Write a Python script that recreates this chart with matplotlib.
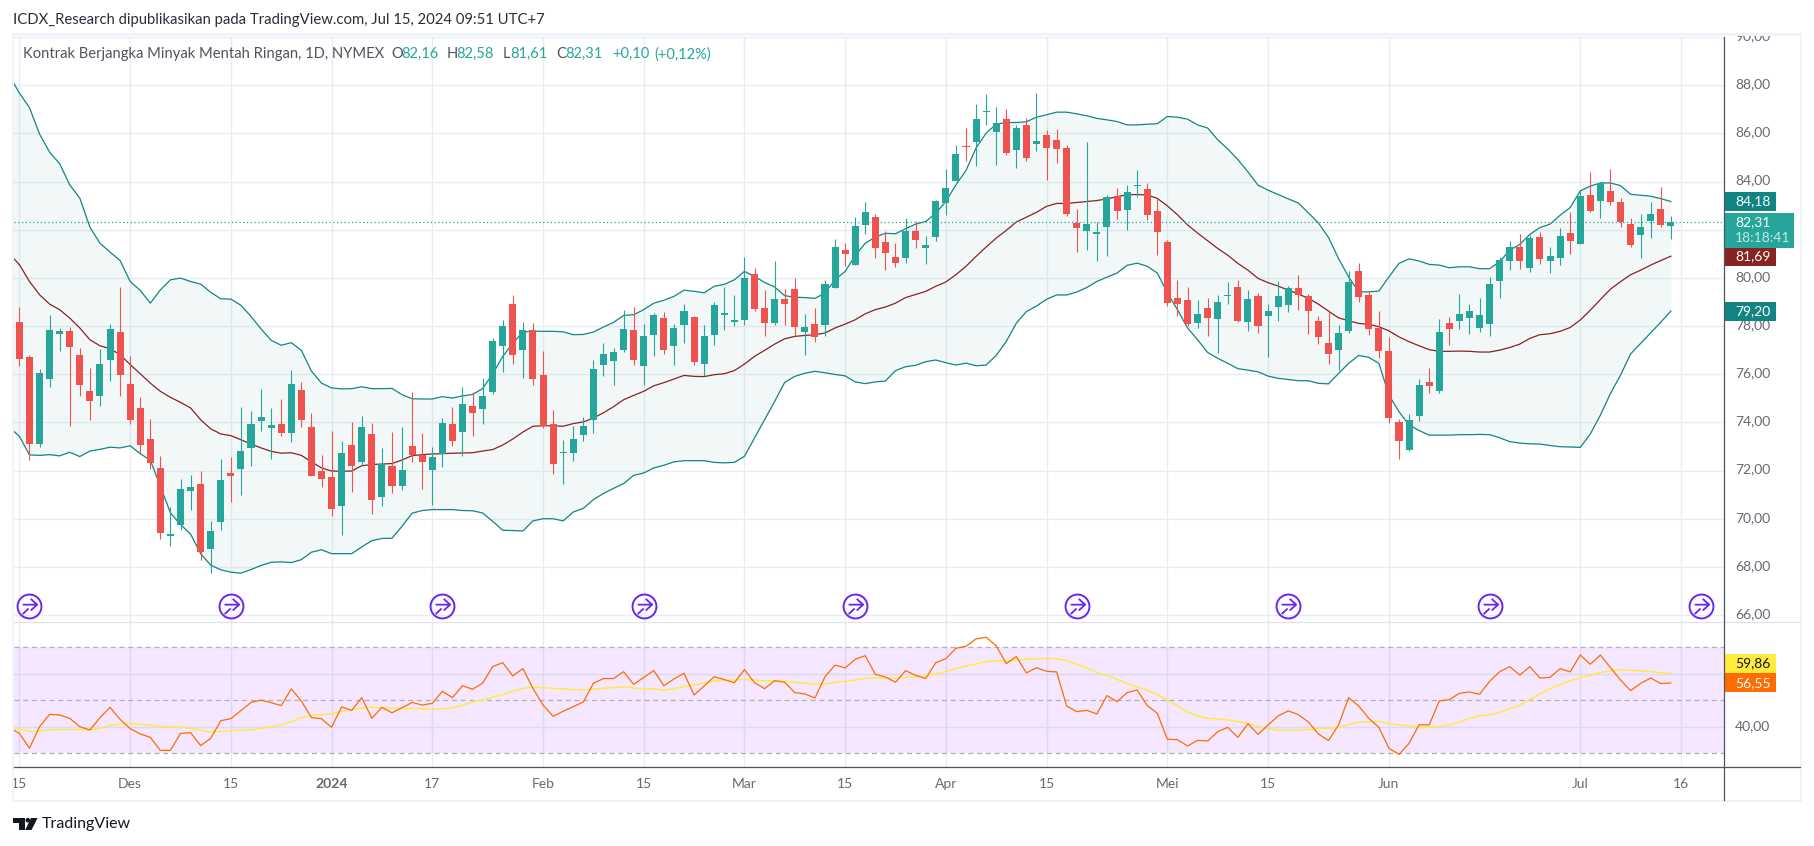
import numpy as np
import matplotlib
matplotlib.use("Agg")
import matplotlib.pyplot as plt
from matplotlib.path import Path
from matplotlib.patches import Rectangle, Polygon, Circle
from matplotlib.transforms import ScaledTranslation

plt.rcParams['font.family'] = ['Lato', 'DejaVu Sans']

# daily candles, index 0 is 15 Nov 2023, last one 15 Jul 2024
opens = [78.18,76.73,73.09,75.79,77.65,77.79,76.80,75.32,75.08,76.58,77.76,75.61,74.61,73.31,72.11,69.27,69.76,71.14,71.46,68.73,
         69.85,71.91,72.05,72.92,74.04,73.78,73.95,73.55,75.36,73.82,72.00,71.75,70.52,73.08,72.37,73.53,70.89,72.20,71.35,73.03,
         72.65,72.01,72.70,73.95,73.59,74.69,74.57,75.28,77.16,78.93,77.02,77.83,75.98,73.95,72.74,72.74,73.49,74.09,76.40,76.56,
         77.02,77.85,76.33,77.61,78.35,77.16,78.06,78.39,76.41,77.61,78.47,78.18,78.26,80.17,78.76,78.14,79.13,79.55,77.76,78.10,
         78.06,79.59,81.17,80.54,82.20,82.54,81.50,80.88,80.84,81.96,81.25,81.71,83.12,84.03,85.48,85.65,86.87,86.06,86.60,85.32,
         86.35,85.57,85.94,85.73,85.40,82.29,81.96,81.83,82.12,83.41,82.83,83.82,83.70,82.79,81.50,79.18,79.09,78.14,78.76,78.30,
         79.24,79.62,78.16,79.24,78.41,78.79,78.87,79.57,79.24,78.20,77.29,77.00,77.79,80.28,79.28,77.91,76.96,74.01,72.85,74.26,
         75.67,75.30,78.12,78.20,78.33,77.91,78.08,79.86,80.69,81.28,80.40,81.69,80.69,80.82,81.86,81.40,83.43,83.18,83.60,83.14,
         82.23,81.77,82.35,82.85,82.16]
highs = [78.79,76.80,76.22,78.47,77.92,77.96,77.09,76.26,77.05,78.10,79.63,76.77,75.05,74.14,72.62,70.49,71.65,71.82,71.98,69.91,
         72.50,72.56,74.64,74.49,75.40,74.61,74.98,76.19,75.68,74.39,72.66,73.64,73.23,74.03,74.28,73.98,72.95,73.62,73.82,75.26,
         73.57,72.99,74.20,74.65,75.47,75.26,75.84,77.50,78.26,79.30,78.17,78.12,76.96,74.53,73.28,73.86,74.24,76.60,77.31,77.10,
         78.65,78.79,78.10,78.54,78.58,78.10,78.91,78.43,78.06,79.00,79.63,79.30,80.86,80.40,79.50,80.71,79.55,79.99,78.51,78.76,
         79.92,81.61,81.46,82.52,83.15,82.66,81.94,81.46,82.48,82.36,81.75,83.24,84.53,85.52,86.23,87.23,87.64,87.10,87.00,86.35,
         86.63,87.68,86.15,86.19,85.52,82.87,85.65,82.33,83.45,83.74,83.86,84.49,83.95,83.27,81.57,79.92,79.63,79.09,79.18,79.28,
         79.82,79.93,79.49,79.37,78.91,79.86,79.66,80.11,79.32,78.41,78.62,78.04,80.28,80.61,79.41,78.62,77.54,74.14,74.35,75.80,
         76.25,78.29,78.37,79.32,78.91,79.16,80.03,80.86,81.52,81.81,81.77,81.90,81.30,82.06,82.73,83.64,84.39,83.96,84.51,83.31,
         82.48,82.64,83.14,83.76,82.58]
lows = [76.33,72.43,72.97,75.46,76.95,73.84,75.11,74.09,74.67,75.70,75.08,73.95,72.70,72.07,69.15,68.86,69.52,70.38,68.28,67.74,
        69.55,70.68,71.00,72.18,73.63,72.47,73.42,73.17,73.80,71.76,71.31,70.10,69.31,71.10,72.25,70.19,70.52,71.06,71.21,72.37,
        71.25,70.55,72.14,73.03,72.59,73.45,73.95,75.19,76.08,76.44,75.86,75.54,73.78,71.85,71.43,72.41,73.24,73.57,75.94,75.57,
        76.91,76.40,75.54,76.74,76.82,76.37,77.28,76.37,75.91,77.20,77.82,78.00,78.05,78.61,77.57,78.03,78.05,77.57,76.81,77.35,
        77.60,79.59,80.50,80.54,81.83,80.84,80.34,80.46,80.63,81.25,80.59,81.54,82.62,84.03,84.86,84.65,86.35,84.69,85.11,84.57,
        84.86,85.28,84.07,84.78,82.58,81.08,81.17,80.71,80.92,82.45,82.00,83.37,82.41,80.96,78.84,78.43,77.99,77.93,77.57,76.89,
        78.91,78.16,77.79,77.71,76.72,78.20,78.58,78.66,77.67,77.25,76.42,76.17,77.71,78.99,77.62,76.67,73.97,72.48,72.81,74.05,
        75.22,75.22,77.21,77.87,77.67,77.75,77.58,79.16,80.32,80.36,80.24,80.57,80.20,80.53,80.98,81.40,82.73,82.48,83.02,82.10,
        81.28,80.82,81.65,82.10,81.61]
closes = [76.64,73.09,76.06,77.83,77.81,77.11,75.54,74.87,76.44,77.89,75.95,74.09,73.05,72.30,69.40,69.38,71.24,71.33,68.61,69.51,
          71.61,71.76,72.83,73.95,74.24,73.91,73.55,75.61,74.09,71.76,71.64,70.39,72.74,72.18,73.82,70.77,72.29,71.35,72.04,72.65,
          72.37,72.58,73.99,73.24,74.78,74.38,75.10,77.39,78.01,76.78,77.83,75.81,73.84,72.26,72.79,73.32,73.86,76.23,76.85,76.93,
          77.89,76.60,77.60,78.47,77.02,77.93,78.64,76.49,77.60,78.87,78.54,78.26,80.01,78.72,78.14,79.13,78.93,77.97,77.97,77.56,
          79.76,81.29,81.00,82.16,82.74,81.25,81.04,80.63,81.96,81.58,81.37,83.20,83.74,85.15,85.44,86.60,86.93,86.44,85.19,86.23,
          84.98,85.69,85.40,85.36,82.66,82.08,82.25,81.91,83.37,82.79,83.57,83.86,82.62,81.91,78.97,78.93,78.10,78.51,78.35,78.99,
          79.28,78.20,79.12,78.00,78.62,79.24,79.57,79.28,78.62,77.54,76.84,77.71,79.82,79.20,77.87,76.96,74.18,73.22,74.10,75.55,
          75.51,77.75,77.87,78.50,78.62,78.45,79.74,80.74,81.28,80.69,81.65,80.78,80.90,81.73,81.52,83.39,82.77,83.93,83.14,82.31,
          81.36,82.11,82.64,82.19,82.31]

# bollinger bands, first value is the bar before index 0
bb_upper = [88.4,87.67,87.07,85.97,85.22,84.74,83.86,83.31,82.11,81.44,81.07,80.72,79.85,79.48,78.95,79.5,79.92,79.99,79.85,79.74,79.4,79.13,
            79.12,78.86,78.4,77.88,77.41,77.2,77.31,76.99,76.13,75.63,75.43,75.39,75.4,75.48,75.4,75.4,75.41,75.15,74.98,74.97,74.97,75.07,
            75.01,75.1,75.16,75.4,76.02,76.74,77.29,77.75,77.79,77.78,77.78,77.76,77.64,77.65,77.75,77.96,78.15,78.44,78.47,78.68,78.95,79.07,
            79.23,79.49,79.44,79.38,79.65,79.73,79.92,80.27,80.06,79.81,79.62,79.26,79.2,79.18,79.15,79.37,79.92,80.27,80.92,81.44,81.69,81.85,
            81.83,82.04,82.23,82.34,82.69,83.17,83.86,84.46,85.39,86.01,86.38,86.45,86.45,86.48,86.67,86.77,86.88,86.88,86.81,86.73,86.62,86.56,
            86.49,86.35,86.35,86.38,86.4,86.7,86.67,86.59,86.35,86.22,85.73,85.35,84.91,84.4,83.85,83.64,83.46,83.28,83.11,82.7,82.28,81.68,
            80.8,80.04,79.42,79.42,79.45,80.04,80.6,80.79,80.7,80.56,80.53,80.42,80.46,80.46,80.38,80.38,80.67,81.15,81.39,81.81,82.09,82.23,
            82.6,82.92,83.61,83.81,83.94,83.94,83.83,83.47,83.43,83.39,83.29,83.17]
bb_basis = [81.0,80.55,79.85,79.3,78.91,78.68,78.33,77.92,77.43,77.18,77.06,76.81,76.4,76.02,75.63,75.29,75.04,74.83,74.6,74.11,73.73,73.52,
            73.45,73.28,73.1,72.94,72.8,72.72,72.74,72.63,72.36,72.11,71.98,71.97,71.98,72.2,72.25,72.27,72.29,72.44,72.62,72.66,72.69,72.7,
            72.72,72.73,72.74,72.81,72.87,73.06,73.31,73.6,73.84,73.86,73.86,73.84,73.95,74.02,74.18,74.4,74.65,74.94,75.12,75.29,75.52,75.65,
            75.8,75.95,75.91,75.9,75.98,76.02,76.15,76.42,76.74,76.99,77.25,77.47,77.57,77.61,77.64,77.71,77.92,78.08,78.26,78.51,78.68,78.79,
            78.95,79.18,79.31,79.44,79.65,79.83,80.13,80.48,80.89,81.28,81.65,81.97,82.32,82.52,82.72,82.97,83.09,83.09,83.13,83.17,83.21,83.28,
            83.37,83.45,83.46,83.44,83.3,82.99,82.62,82.2,81.86,81.54,81.22,80.94,80.6,80.32,79.98,79.8,79.66,79.49,79.33,79.15,78.91,78.62,
            78.34,78.22,78.11,78.07,77.97,77.8,77.55,77.35,77.18,77.02,76.95,76.95,76.96,76.95,76.92,76.92,77.0,77.11,77.25,77.49,77.64,77.68,
            77.78,77.94,78.25,78.66,79.1,79.53,79.84,80.13,80.32,80.53,80.72,80.9]
bb_lower = [73.8,73.42,72.65,72.63,72.66,72.61,72.76,72.58,72.81,72.88,72.97,72.94,73.03,72.7,72.43,71.35,70.24,69.76,69.36,68.55,68.07,67.88,
            67.78,67.74,67.89,68.06,68.19,68.21,68.18,68.3,68.61,68.71,68.55,68.55,68.55,68.83,69.09,69.18,69.19,69.69,70.23,70.34,70.38,70.38,
            70.38,70.34,70.33,70.24,69.89,69.52,69.51,69.49,69.91,70.0,70.0,69.91,70.28,70.43,70.79,71.05,71.26,71.46,71.8,71.9,72.11,72.22,
            72.36,72.41,72.41,72.41,72.34,72.32,72.34,72.59,73.35,74.11,74.87,75.66,75.91,76.04,76.12,76.06,75.99,75.93,75.68,75.61,75.68,75.72,
            76.15,76.31,76.37,76.52,76.59,76.48,76.38,76.46,76.35,76.38,76.78,77.36,78.12,78.6,78.83,79.11,79.29,79.29,79.41,79.6,79.85,80.03,
            80.2,80.52,80.61,80.48,80.2,79.37,78.68,77.92,77.43,76.9,76.66,76.45,76.23,76.17,76.1,75.92,75.83,75.78,75.73,75.73,75.62,75.6,
            76.03,76.45,76.78,76.7,76.45,75.13,74.44,73.89,73.66,73.47,73.47,73.47,73.49,73.49,73.5,73.49,73.36,73.2,73.14,73.11,73.1,73.04,
            72.99,72.98,72.96,73.52,74.3,75.2,75.96,76.84,77.28,77.72,78.16,78.62]

# rsi pane, same bars as the bands
rsi = [39.8,37.5,31.9,40.05,44.7,44.45,43.2,40.05,38.8,43.45,47.35,42.8,39.3,37.3,36.0,31.1,31.1,37.5,37.8,32.9,35.65,42.3,
       43.05,46.1,49.2,50.1,49.1,48.0,54.3,49.75,43.45,43.05,39.8,47.5,46.2,51.0,43.2,47.35,45.3,47.2,49.2,48.2,48.85,53.4,
       51.0,55.5,54.15,56.5,62.7,64.2,59.2,61.95,54.5,48.2,43.95,45.85,47.6,49.35,56.4,58.2,58.2,60.8,56.0,58.65,61.2,55.5,
       58.05,60.2,52.0,55.4,58.9,57.8,56.65,61.55,56.65,54.4,57.4,56.8,52.9,52.4,50.9,58.9,63.3,62.2,65.45,66.85,59.8,58.8,
       56.8,61.2,59.4,58.2,64.2,65.7,69.6,70.4,73.15,73.8,70.6,63.85,66.5,60.3,62.3,60.95,60.7,47.85,45.7,46.2,44.85,51.75,
       49.5,52.9,53.9,48.0,45.1,35.3,35.15,32.75,34.9,34.65,38.15,39.8,36.0,41.2,37.15,40.7,44.1,46.0,44.6,41.8,37.3,34.8,
       40.7,51.0,47.85,43.2,39.8,31.9,29.6,33.75,40.8,40.7,49.75,50.25,52.65,53.15,52.25,57.15,60.8,62.7,59.55,62.7,58.4,58.65,
       61.95,60.7,67.1,63.6,67.1,62.3,57.65,53.65,56.4,58.4,56.3,56.55]
rsi_ma = [40.3,39.2,38.3,38.4,38.8,38.95,38.95,38.95,38.8,39.4,40.55,41.05,41.2,40.95,40.55,40.2,40.05,39.95,39.4,38.7,38.05,38.2,
          38.55,38.7,38.8,39.4,40.05,40.7,41.95,43.45,44.3,44.6,44.85,45.85,46.45,47.1,47.35,47.2,47.1,46.85,46.85,46.85,46.6,46.85,
          47.2,48.2,49.35,50.1,51.25,52.1,53.4,54.5,54.9,54.8,54.5,54.3,54.0,53.9,54.3,54.5,54.8,55.0,54.65,54.3,54.3,53.9,
          54.3,55.15,55.8,56.5,57.3,57.65,57.65,57.9,57.65,57.3,57.4,57.3,56.8,56.4,56.0,56.15,56.8,57.15,57.65,58.3,58.4,58.4,
          58.4,58.65,58.9,59.2,59.95,60.8,62.05,62.95,63.7,64.6,64.95,64.95,65.2,65.45,65.7,65.7,65.7,64.95,63.6,62.2,60.45,59.4,
          57.9,56.3,55.0,53.9,52.1,50.1,47.85,45.6,44.1,43.2,42.95,42.55,42.05,41.3,40.2,39.3,38.7,38.7,38.7,39.05,39.3,39.4,
          39.8,40.95,41.7,41.8,42.05,41.3,40.7,40.3,40.05,39.95,40.2,40.7,41.8,43.2,44.1,44.6,45.35,46.85,48.2,50.25,52.4,54.4,
          55.9,57.4,58.55,59.4,60.45,61.05,61.55,61.3,61.05,60.8,60.45,60.05]

assert len(opens) == len(highs) == len(lows) == len(closes) == 165
assert len(bb_upper) == len(bb_basis) == len(bb_lower) == len(rsi) == len(rsi_ma) == 166

tick_bars = [0, 11, 21, 31, 41, 52, 62, 72, 82, 92, 102, 114, 124, 136, 155, 165]
tick_names = ['15', 'Des', '15', '2024', '17', 'Feb', '15', 'Mar', '15', 'Apr', '15', 'Mei', '15', 'Jun', 'Jul', '16']
event_bars = [1, 21, 42, 62, 83, 105, 126, 146, 167]

price_ticks = [66, 68, 70, 72, 74, 76, 78, 80, 82, 84, 86, 88, 90]
rsi_ticks = [40, 60]
rsi_levels = [70, 50, 30]
# these two sit behind the value tags in the screenshot
hidden_ticks = [82, 60]

last_close = 82.31
upper_tag = '84,18'
basis_tag = '81,69'
lower_tag = '79,20'
close_tag = '82,31'
countdown = '18:18:41'
rsi_tag = '56,55'
rsi_ma_tag = '59,86'

W, H = 1814, 846
UP = '#26a69a'
DOWN = '#ef5350'
BAND = '#138484'
BASIS = '#872323'
GRID = '#e6eef4'
TEXT = '#666974'
FRAME = '#f0f3fa'
FONT = 10

left, right = 14, 1724.3
main_top, main_bottom = 37, 622.3
rsi_bottom = 767
# x scale of the screenshot: 10.07 px per bar, bar 0 at 19.4 px
xlim = ((left - 19.4) / 10.07, (right - 19.4) / 10.07)

fig = plt.figure(figsize=(W / 100, H / 100), dpi=100, facecolor='white')


def pane(top, bottom):
    a = fig.add_axes([left / W, 1 - bottom / H, (right - left) / W, (bottom - top) / H])
    a.set_xlim(xlim)
    for s in a.spines.values():
        s.set_visible(False)
    a.set_axisbelow(True)
    a.set_xticks(tick_bars)
    a.grid(True, color=GRID, lw=1.0)
    a.yaxis.tick_right()
    a.tick_params(length=0, labelsize=FONT, labelcolor=TEXT, pad=7.7)
    return a


def price_labels(a, ticks):
    a.set_yticks(ticks)
    a.set_yticklabels(['' if t in hidden_ticks else f'{t:.2f}'.replace('.', ',') for t in ticks])
    # labels sit a little above their grid line
    for lab in a.get_yticklabels():
        lab.set_transform(lab.get_transform() + ScaledTranslation(0, 2 / 100, fig.dpi_scale_trans))


ax = pane(main_top, main_bottom)
ax.set_ylim(65.70, 90.0)
price_labels(ax, price_ticks)
ax.tick_params(labelbottom=False)

bars = np.arange(len(opens))
band_x = np.arange(len(bb_upper)) - 1
ax.fill_between(band_x, bb_upper, bb_lower, color=BAND, alpha=0.05, lw=0, zorder=1)
ax.plot(band_x, bb_upper, color=BAND, lw=0.9, zorder=2)
ax.plot(band_x, bb_lower, color=BAND, lw=0.9, zorder=2)
ax.plot(band_x, bb_basis, color=BASIS, lw=0.9, zorder=2)

colors = [UP if c >= o else DOWN for o, c in zip(opens, closes)]
ax.vlines(bars, lows, highs, colors=colors, lw=0.8, zorder=3)
ax.bar(bars, np.array(closes) - np.array(opens), bottom=opens, width=0.7, color=colors, lw=0, zorder=4)
ax.axhline(last_close, color=UP, lw=0.9, ls=(0, (1, 2)), zorder=3)

# session break icons
icon_y = 66.39
arrow = Path([(-0.45, 0.12), (0.5, 0.12), (0.08, 0.5), (0.5, 0.12), (0.08, -0.26), (-0.45, -0.5), (-0.06, -0.13)],
             [Path.MOVETO, Path.LINETO, Path.MOVETO, Path.LINETO, Path.LINETO, Path.MOVETO, Path.LINETO])
ax.plot(event_bars, [icon_y] * len(event_bars), ls='', marker='o', ms=17.2, mfc='none', mec='#6a25f5', mew=1.4,
        clip_on=False, zorder=6)
ax.plot(event_bars, [icon_y] * len(event_bars), ls='', marker=arrow, ms=11, mfc='none', mec='#6a25f5', mew=1.3,
        clip_on=False, zorder=6)


def tag(a, y, h, text, color, fg='white', width=51.5):
    # h is in data units of that pane
    tr = a.get_yaxis_transform()
    a.add_patch(Rectangle((1, y - h / 2), width / (right - left), h, transform=tr, color=color, lw=0,
                          clip_on=False, zorder=7))
    a.text(1 + 11 / (right - left), y, text, transform=tr, color=fg, fontsize=FONT, va='center', ha='left',
           clip_on=False, zorder=8)


tag(ax, bb_upper[-1], 0.79, upper_tag, '#138484')
tag(ax, bb_basis[-1], 0.79, basis_tag, '#872323')
tag(ax, bb_lower[-1], 0.79, lower_tag, '#138484')
# close price box also holds the countdown
tr = ax.get_yaxis_transform()
ax.add_patch(Rectangle((1, last_close - 1.06), 70 / (right - left), 1.45, transform=tr, color=UP, lw=0,
                       clip_on=False, zorder=7))
ax.text(1 + 11 / (right - left), last_close + 0.02, close_tag, transform=tr, color='white', fontsize=FONT, va='center',
        clip_on=False, zorder=8)
ax.text(1 + 11 / (right - left), last_close - 0.66, countdown, transform=tr, color='#c5e8e4', fontsize=FONT, va='center',
        clip_on=False, zorder=8)

ax2 = pane(main_bottom, rsi_bottom)
ax2.set_ylim(24.83, 79.43)
price_labels(ax2, rsi_ticks)
ax2.set_xticklabels(tick_names)
ax2.tick_params(axis='x', pad=8.2)
for lab, name in zip(ax2.get_xticklabels(), tick_names):
    if name == '2024':
        lab.set_fontweight('bold')
ax2.axhspan(min(rsi_levels), max(rsi_levels), color='#9c27ff', alpha=0.11, lw=0, zorder=1)
for lev in rsi_levels:
    ax2.axhline(lev, color='#b2aeb8', lw=0.9, ls=(0, (4, 3)), zorder=1.5)
ax2.plot(band_x, rsi_ma, color='#ffeb3b', lw=1.0, zorder=2)
ax2.plot(band_x, rsi, color='#ff6d00', lw=0.9, zorder=3)
tag(ax2, 63.9, 7.2, rsi_ma_tag, '#ffeb3b', fg='#131722')
tag(ax2, rsi[-1], 7.2, rsi_tag, '#ff6d00')

# frame, header and logo in screen pixels
top = fig.add_axes([0, 0, 1, 1], zorder=10)
top.set_xlim(0, W)
top.set_ylim(H, 0)
top.axis('off')
top.patch.set_alpha(0)
top.add_patch(Rectangle((0, 0), W, 33.5, color='white', lw=0))
top.add_patch(Rectangle((12, 33.5), 1790, 2.2, color=FRAME, lw=0))
top.add_patch(Rectangle((12, 33.5), 2, 769, color=FRAME, lw=0))
top.add_patch(Rectangle((1800, 33.5), 2, 769, color=FRAME, lw=0))
top.add_patch(Rectangle((12, 800.5), 1790, 2, color=FRAME, lw=0))
top.plot([14, 1800], [main_bottom, main_bottom], color='#e0e3eb', lw=0.9)
top.plot([14, 1800], [rsi_bottom, rsi_bottom], color='#50535e', lw=0.9)
top.plot([right, right], [37, 800.5], color='#50535e', lw=0.9)

top.text(13, 20, 'ICDX_Research dipublikasikan pada TradingView.com, Jul 15, 2024 09:51 UTC+7', color='#2a2e39',
         fontsize=10.75, va='center')
top.text(23, 54.3, 'Kontrak Berjangka Minyak Mentah Ringan, 1D, NYMEX', color='#50535e', fontsize=10.6, va='center')
for x, s, c in [(391, 'O', '#50535e'), (401, '82,16', UP), (447, 'H', '#50535e'), (456.5, '82,58', UP),
                (503, 'L', '#50535e'), (510, '81,61', UP), (556, 'C', '#50535e'), (565, '82,31', UP),
                (612, '+0,10', UP), (654, '(+0,12%)', UP)]:
    top.text(x, 54.3, s, color=c, fontsize=10.5, va='center')

top.add_patch(Polygon([(13, 818), (24.5, 818), (24.5, 830), (18.5, 830), (18.5, 823), (13, 823)], color='#131722', lw=0))
top.add_patch(Circle((27.8, 820.2), 2.3, color='#131722', lw=0))
top.add_patch(Polygon([(31, 818), (37.6, 818), (31.5, 830), (25.2, 830)], color='#131722', lw=0))
top.text(42, 824, 'TradingView', color='#131722', fontsize=11.5, va='center')

fig.savefig('out.png', dpi=100)
